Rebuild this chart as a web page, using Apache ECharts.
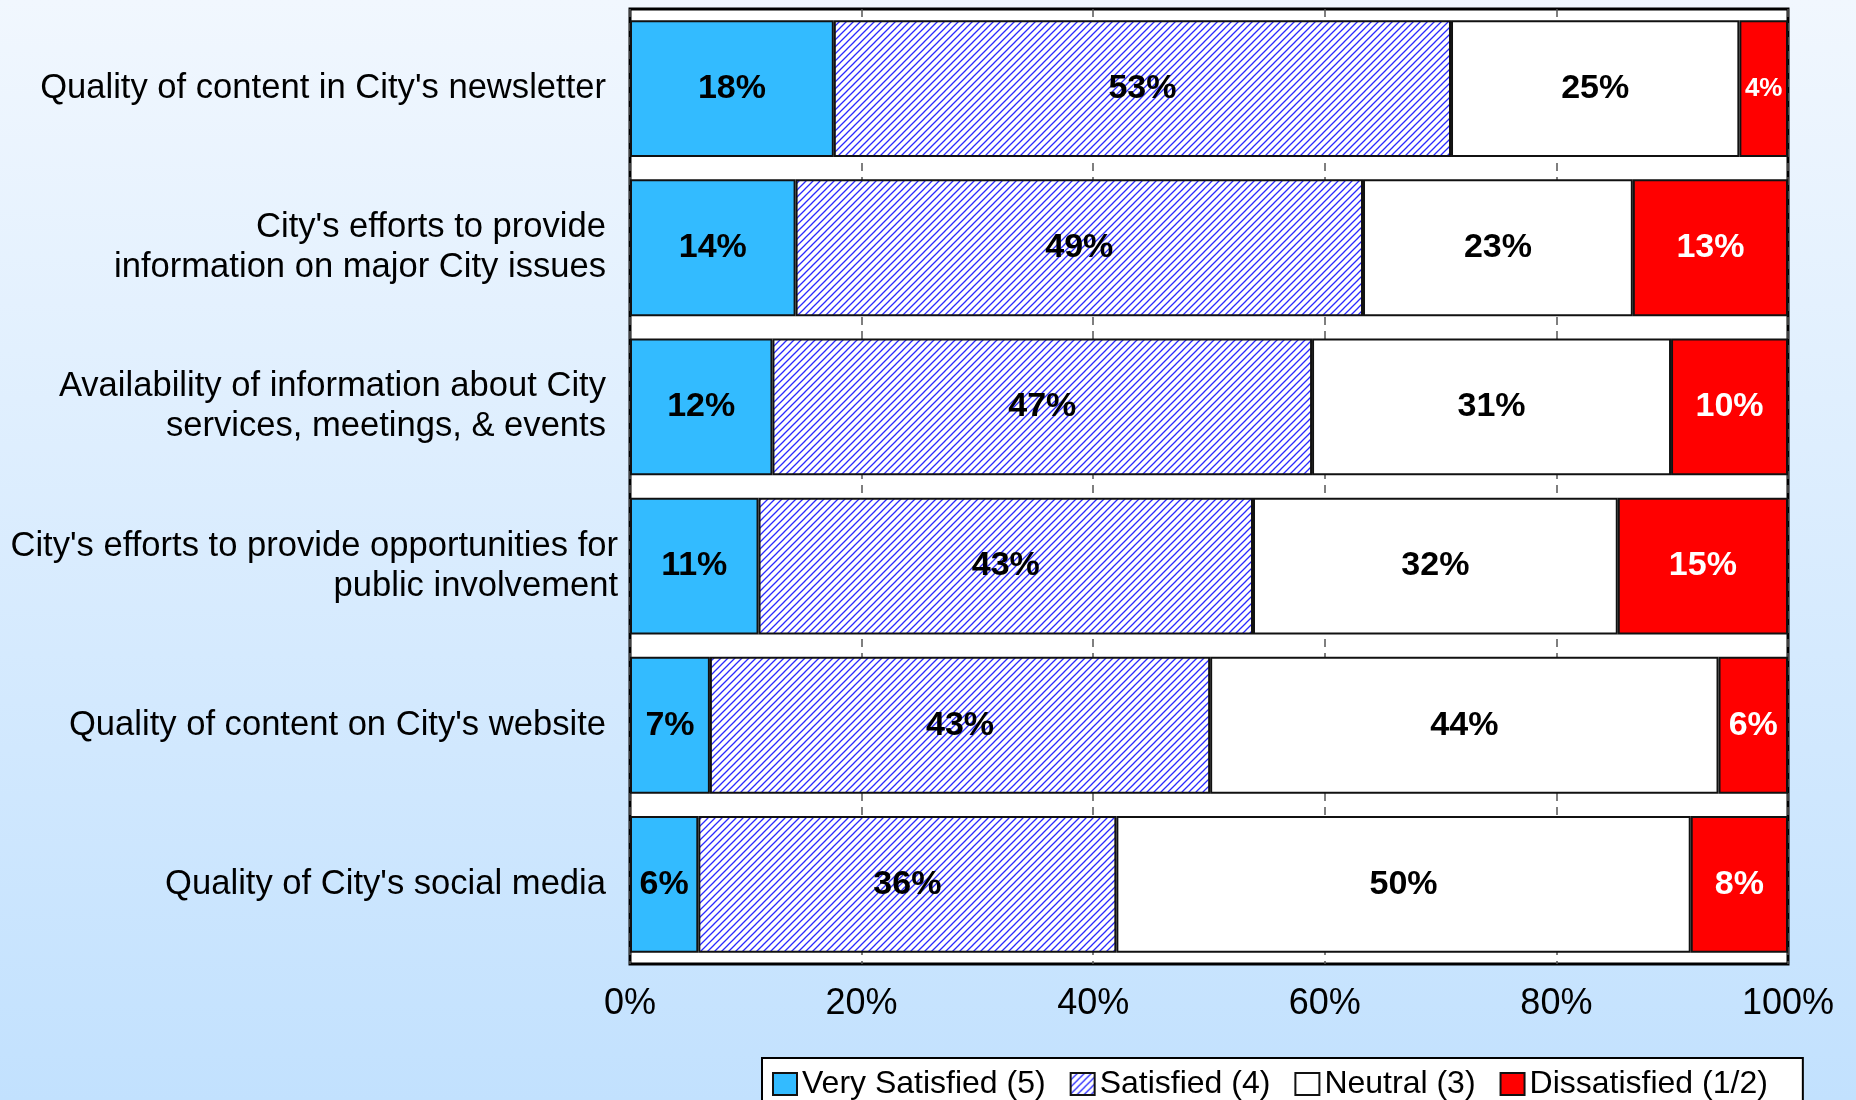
<!DOCTYPE html>
<html>
<head>
<meta charset="utf-8">
<script src="https://cdn.jsdelivr.net/npm/echarts@6/dist/echarts.min.js"></script>
<style>
  html, body { margin: 0; padding: 0; }
  #main { width: 1856px; height: 1100px; }
</style>
</head>
<body>
<div id="main"></div>
<script>
// categories, top to bottom
var categories = [
    "Quality of content in City's newsletter",
    "City's efforts to provide\ninformation on major City issues",
    "Availability of information about City\nservices, meetings, & events",
    "City's efforts to provide opportunities for\npublic involvement",
    "Quality of content on City's website",
    "Quality of City's social media"
];
var seriesNames = ['Very Satisfied (5)', 'Satisfied (4)', 'Neutral (3)', 'Dissatisfied (1/2)'];

// percentages
var verySatisfied = [17.6, 14.3, 12.3, 11.1, 6.9, 5.9];
var satisfied     = [53.3, 49.0, 46.6, 42.7, 43.2, 36.1];
var neutral       = [24.9, 23.3, 31.0, 31.5, 43.9, 49.6];
var dissatisfied  = [4.2, 13.4, 10.1, 14.7, 6.0, 8.4];

var xTicks = [0, 20, 40, 60, 80, 100];

var FONT = '"Liberation Sans", Arial, sans-serif';

// hatch fill for "Satisfied"
var hatch = document.createElement('canvas');
hatch.width = 7;
hatch.height = 7;
var ctx = hatch.getContext('2d');
ctx.fillStyle = '#ffffff';
ctx.fillRect(0, 0, 7, 7);
ctx.strokeStyle = '#2a2aff';
ctx.lineWidth = 1.3;
ctx.beginPath();
ctx.moveTo(-1, 8); ctx.lineTo(8, -1);
ctx.moveTo(-1, 1); ctx.lineTo(1, -1);
ctx.moveTo(6, 8); ctx.lineTo(8, 6);
ctx.stroke();

var fills = ['#33bbff', { image: hatch, repeat: 'repeat' }, '#ffffff', '#ff0000'];
var labelColors = ['#000', '#000', '#000', '#fff'];
var allValues = [verySatisfied, satisfied, neutral, dissatisfied];

var series = seriesNames.map(function (name, i) {
    return {
        name: name,
        type: 'bar',
        stack: 'total',
        barCategoryGap: '14%',
        itemStyle: { color: fills[i], borderColor: '#111', borderWidth: 2 },
        label: {
            show: true,
            position: 'inside',
            color: labelColors[i],
            fontFamily: FONT,
            fontWeight: 'bold',
            fontSize: 34,
            formatter: function (p) { return Math.round(p.value) + '%'; }
        },
        data: allValues[i].map(function (v) {
            return v < 5 ? { value: v, label: { fontSize: 26 } } : v;
        })
    };
});

// the long 4th label sits a little closer to the axis in the original
var yData = categories.map(function (c, i) {
    return i === 3 ? { value: c, textStyle: { padding: [0, -12, 0, 0] } } : c;
});

var myChart = echarts.init(document.getElementById('main'));

var option = {
    animation: false,
    backgroundColor: new echarts.graphic.LinearGradient(0, 0, 0, 1, [
        { offset: 0, color: '#f1f7fe' },
        { offset: 1, color: '#c2e1fe' }
    ]),
    legend: {
        left: 762,
        top: 1058,
        data: seriesNames,
        backgroundColor: '#fff',
        borderColor: '#000',
        borderWidth: 2,
        padding: [10, 35, 20, 10],
        itemWidth: 24,
        itemHeight: 22,
        itemGap: 24,
        icon: 'rect',
        textStyle: { fontFamily: FONT, fontSize: 32, color: '#000' }
    },
    grid: {
        left: 630,
        right: 68,
        top: 9,
        bottom: 136,
        outerBoundsMode: 'none',
        containLabel: false,
        show: true,
        backgroundColor: '#fff',
        borderColor: '#000',
        borderWidth: 3
    },
    xAxis: {
        type: 'value',
        min: xTicks[0],
        max: xTicks[xTicks.length - 1],
        interval: 20,
        axisLine: { show: false },
        axisTick: { show: false },
        splitLine: { show: true, lineStyle: { color: '#555', width: 1.5, type: [8, 6] } },
        axisLabel: {
            formatter: '{value}%',
            fontFamily: FONT,
            fontSize: 36,
            color: '#000',
            margin: 22
        }
    },
    yAxis: {
        type: 'category',
        inverse: true,
        data: yData,
        axisLine: { show: false },
        axisTick: { show: false },
        axisLabel: {
            fontFamily: FONT,
            fontSize: 34.6,
            lineHeight: 40,
            color: '#000',
            margin: 24,
            align: 'right'
        }
    },
    series: series
};

myChart.setOption(option);
</script>
</body>
</html>
